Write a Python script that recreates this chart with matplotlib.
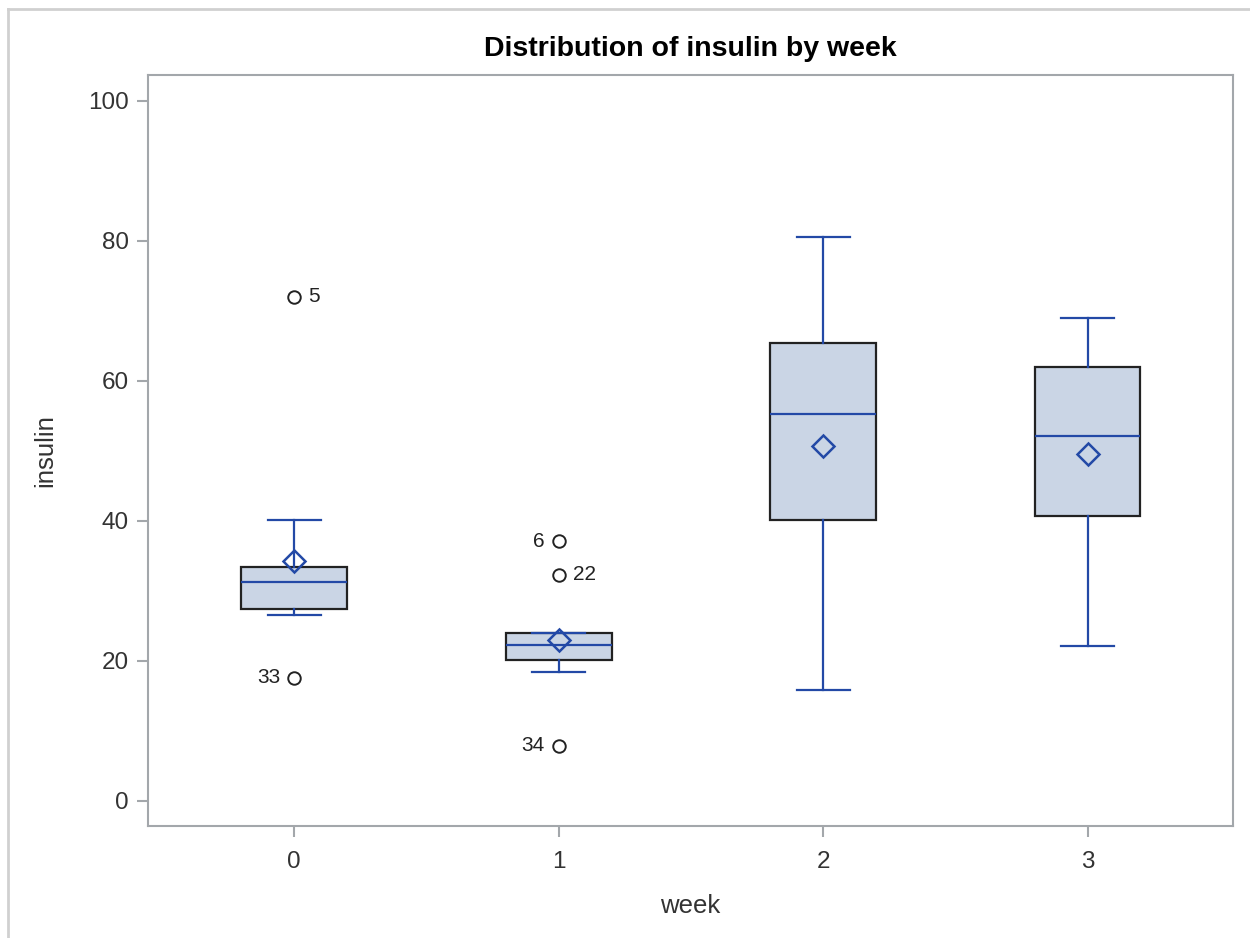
import matplotlib.pyplot as plt
from matplotlib.lines import Line2D

plt.rcParams['font.family'] = ['Liberation Sans', 'DejaVu Sans']

# summary stats
weeks = [0, 1, 2, 3]
whislo = [26.6, 18.4, 15.9, 22.1]
q1 = [27.4, 20.1, 40.1, 40.7]
med = [31.3, 22.3, 55.3, 52.1]
q3 = [33.4, 24.0, 65.4, 62.0]
whishi = [40.1, 24.0, 80.6, 69.0]
means = [34.3, 23.0, 50.7, 49.6]
fliers = [[72.0, 17.6], [37.1, 32.3, 7.9], [], []]
flier_ids = [['5', '33'], ['6', '22', '34'], [], []]
flier_side = [['r', 'l'], ['l', 'r', 'l'], [], []]

blue = '#2349A6'
fill = '#CAD5E5'
grey = '#A3A7AB'

stats = []
for i in range(len(weeks)):
    stats.append(dict(whislo=whislo[i], q1=q1[i], med=med[i], q3=q3[i],
                      whishi=whishi[i], mean=means[i], fliers=fliers[i]))

fig = plt.figure(figsize=(12.5, 9.38), dpi=100)
ax = fig.add_axes([0.1184, 0.1194, 0.868, 0.8006])

ax.bxp(stats, positions=weeks, widths=0.4, patch_artist=True,
       showmeans=True, showfliers=True,
       boxprops=dict(facecolor=fill, edgecolor='#222222', linewidth=1.6),
       medianprops=dict(color=blue, linewidth=1.6),
       whiskerprops=dict(color=blue, linewidth=1.6),
       capprops=dict(color=blue, linewidth=1.6),
       capwidths=0.2,
       meanprops=dict(marker='D', markerfacecolor='none', markeredgecolor=blue,
                      markeredgewidth=1.8, markersize=11),
       flierprops=dict(marker='o', markerfacecolor='none', markeredgecolor='#222222',
                       markeredgewidth=1.4, markersize=9))

# outlier labels
for i in range(len(weeks)):
    for v, lab, side in zip(fliers[i], flier_ids[i], flier_side[i]):
        if side == 'r':
            ax.annotate(lab, (weeks[i], v), xytext=(10, 0), textcoords='offset points',
                        ha='left', va='center', fontsize=15, color='#222222')
        else:
            ax.annotate(lab, (weeks[i], v), xytext=(-10, 0), textcoords='offset points',
                        ha='right', va='center', fontsize=15, color='#222222')

ax.set_xlim(-0.553, 3.55)
ax.set_ylim(-3.6, 103.7)
ax.set_xticks(weeks)
ax.set_xticklabels([str(w) for w in weeks])
ax.set_yticks([0, 20, 40, 60, 80, 100])

for s in ax.spines.values():
    s.set_color(grey)
    s.set_linewidth(1.5)
ax.tick_params(colors=grey, labelcolor='#333333', labelsize=17.5, length=8, width=1.5, pad=6)
ax.tick_params(axis='x', pad=10)

ax.set_xlabel('week', fontsize=18.5, color='#333333', labelpad=15)
ax.set_ylabel('insulin', fontsize=18.5, color='#333333', labelpad=22)
ax.set_title('Distribution of insulin by week', fontsize=20.5, fontweight='bold', pad=14)

# light outer frame
fig.add_artist(Line2D([8 / 1250, 1], [1 - 9 / 938, 1 - 9 / 938], color='#D0D0D0', lw=2))
fig.add_artist(Line2D([8 / 1250, 8 / 1250], [0, 1 - 9 / 938], color='#D0D0D0', lw=2))

fig.savefig('out.png', dpi=100)
